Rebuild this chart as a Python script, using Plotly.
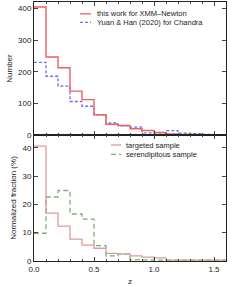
import plotly.graph_objects as go
from plotly.subplots import make_subplots

bin_edges = [round(0.1 * i, 1) for i in range(17)]

# Top panel: number of clusters per redshift bin
xmm_counts = [405, 247, 213, 139, 112, 64, 34, 30, 20, 14, 8, 3, 2, 2, 1, 0]
chandra_counts = [230, 186, 155, 106, 91, 64, 38, 29, 25, 7, 7, 14, 6, 4, 2, 1]

# Bottom panel: normalized fraction (%)
targeted_frac = [40.6, 16.9, 12.3, 7.7, 5.6, 4.5, 2.7, 2.5, 1.8, 1.4, 1.1, 0.3, 0.3, 0.3, 0.3, 0.3]
serendip_frac = [9.8, 22.6, 24.9, 16.6, 14.8, 5.4, 1.8, 2.4, 0.5, 0.4, 0.3, 0.3, 0.3, 0.3, 0.3, 0.3]

legend_top = ["this work for XMM\u2013Newton", "Yuan & Han (2020) for Chandra"]
legend_bot = ["targeted sample", "serendipitous sample"]

RED = "#f06060"
BLUE = "#7070ee"
PINK = "#dc9c9c"
GREEN = "#78b078"
FONT = "Liberation Sans"

def step(vals):
    return bin_edges, list(vals) + [vals[-1]]

fig = make_subplots(rows=2, cols=1, shared_xaxes=True, vertical_spacing=0,
                    row_heights=[0.5135, 0.4865])

x, y = step(chandra_counts)
fig.add_trace(go.Scatter(x=x, y=y, mode="lines", line_shape="hv",
                         line=dict(color=BLUE, width=1.3, dash="3px,2px"),
                         showlegend=False, hoverinfo="skip"), row=1, col=1)
x, y = step(xmm_counts)
fig.add_trace(go.Scatter(x=x, y=y, mode="lines", line_shape="hv",
                         line=dict(color=RED, width=1.4),
                         showlegend=False, hoverinfo="skip"), row=1, col=1)
x, y = step(serendip_frac)
fig.add_trace(go.Scatter(x=x, y=y, mode="lines", line_shape="hv",
                         line=dict(color=GREEN, width=1.3, dash="5px,3px"),
                         showlegend=False, hoverinfo="skip"), row=2, col=1)
x, y = step(targeted_frac)
fig.add_trace(go.Scatter(x=x, y=y, mode="lines", line_shape="hv",
                         line=dict(color=PINK, width=1.3),
                         showlegend=False, hoverinfo="skip"), row=2, col=1)

axis_common = dict(showline=True, linecolor="#222", linewidth=1, mirror="allticks",
                   ticks="inside", ticklen=4, tickcolor="#444", showgrid=False,
                   zeroline=False, automargin=False,
                   tickfont=dict(family=FONT, size=8, color="#222"))

fig.update_xaxes(range=[0, 1.6], dtick=0.5, tick0=0, tickformat=".1f",
                 minor=dict(dtick=0.1, ticks="inside", ticklen=2, tickcolor="#444"),
                 **axis_common)
fig.update_xaxes(showticklabels=False, row=1, col=1)
fig.update_yaxes(range=[0, 421], dtick=100, **axis_common, row=1, col=1)
fig.update_yaxes(range=[0, 44.5], dtick=10, **axis_common, row=2, col=1)
fig.update_yaxes(title=dict(text="Number", font=dict(family=FONT, size=8, color="#222"), standoff=4),
                 row=1, col=1)
fig.update_yaxes(title=dict(text="Normalized fraction (%)", font=dict(family=FONT, size=8, color="#222"), standoff=4),
                 row=2, col=1)

W, H = 240, 287
L, R, T, B = 34, 14, 2, 26
pw, ph = W - L - R, H - T - B

def px(xp):
    return (xp - L) / pw

def py(yp):
    return (H - B - yp) / ph

# x-axis title
fig.add_annotation(xref="paper", yref="paper", x=px(130), y=py(281), text="z",
                   showarrow=False, xanchor="center", yanchor="middle",
                   font=dict(family=FONT, size=8, color="#222"))

# Manual legends (short line samples like the reference)
def add_legend_item(x0, x1, xt, yc, text, color, dash):
    fig.add_shape(type="line", xref="paper", yref="paper",
                  x0=px(x0), x1=px(x1), y0=py(yc), y1=py(yc),
                  line=dict(color=color, width=1.3, dash=dash))
    fig.add_annotation(xref="paper", yref="paper", x=px(xt), y=py(yc), text=text,
                       showarrow=False, xanchor="left", yanchor="middle",
                       borderpad=0,
                       font=dict(family=FONT, size=7.5, color="#222"))

add_legend_item(80, 91, 95.5, 13.8, legend_top[0], RED, "solid")
add_legend_item(80, 91, 95.5, 22.4, legend_top[1], BLUE, "3px,2px")
add_legend_item(111, 121, 124.5, 145.0, legend_bot[0], PINK, "solid")
add_legend_item(111, 121, 124.5, 154.4, legend_bot[1], GREEN, "5px,3px")

fig.update_layout(width=W, height=H, margin=dict(l=L, r=R, t=T, b=B),
                  paper_bgcolor="white", plot_bgcolor="white",
                  font=dict(family=FONT, size=8, color="#222"), showlegend=False)

fig.write_html("out.html", config={"displayModeBar": False, "staticPlot": True},
               post_script="document.body.style.margin='0';document.body.style.padding='0';")
